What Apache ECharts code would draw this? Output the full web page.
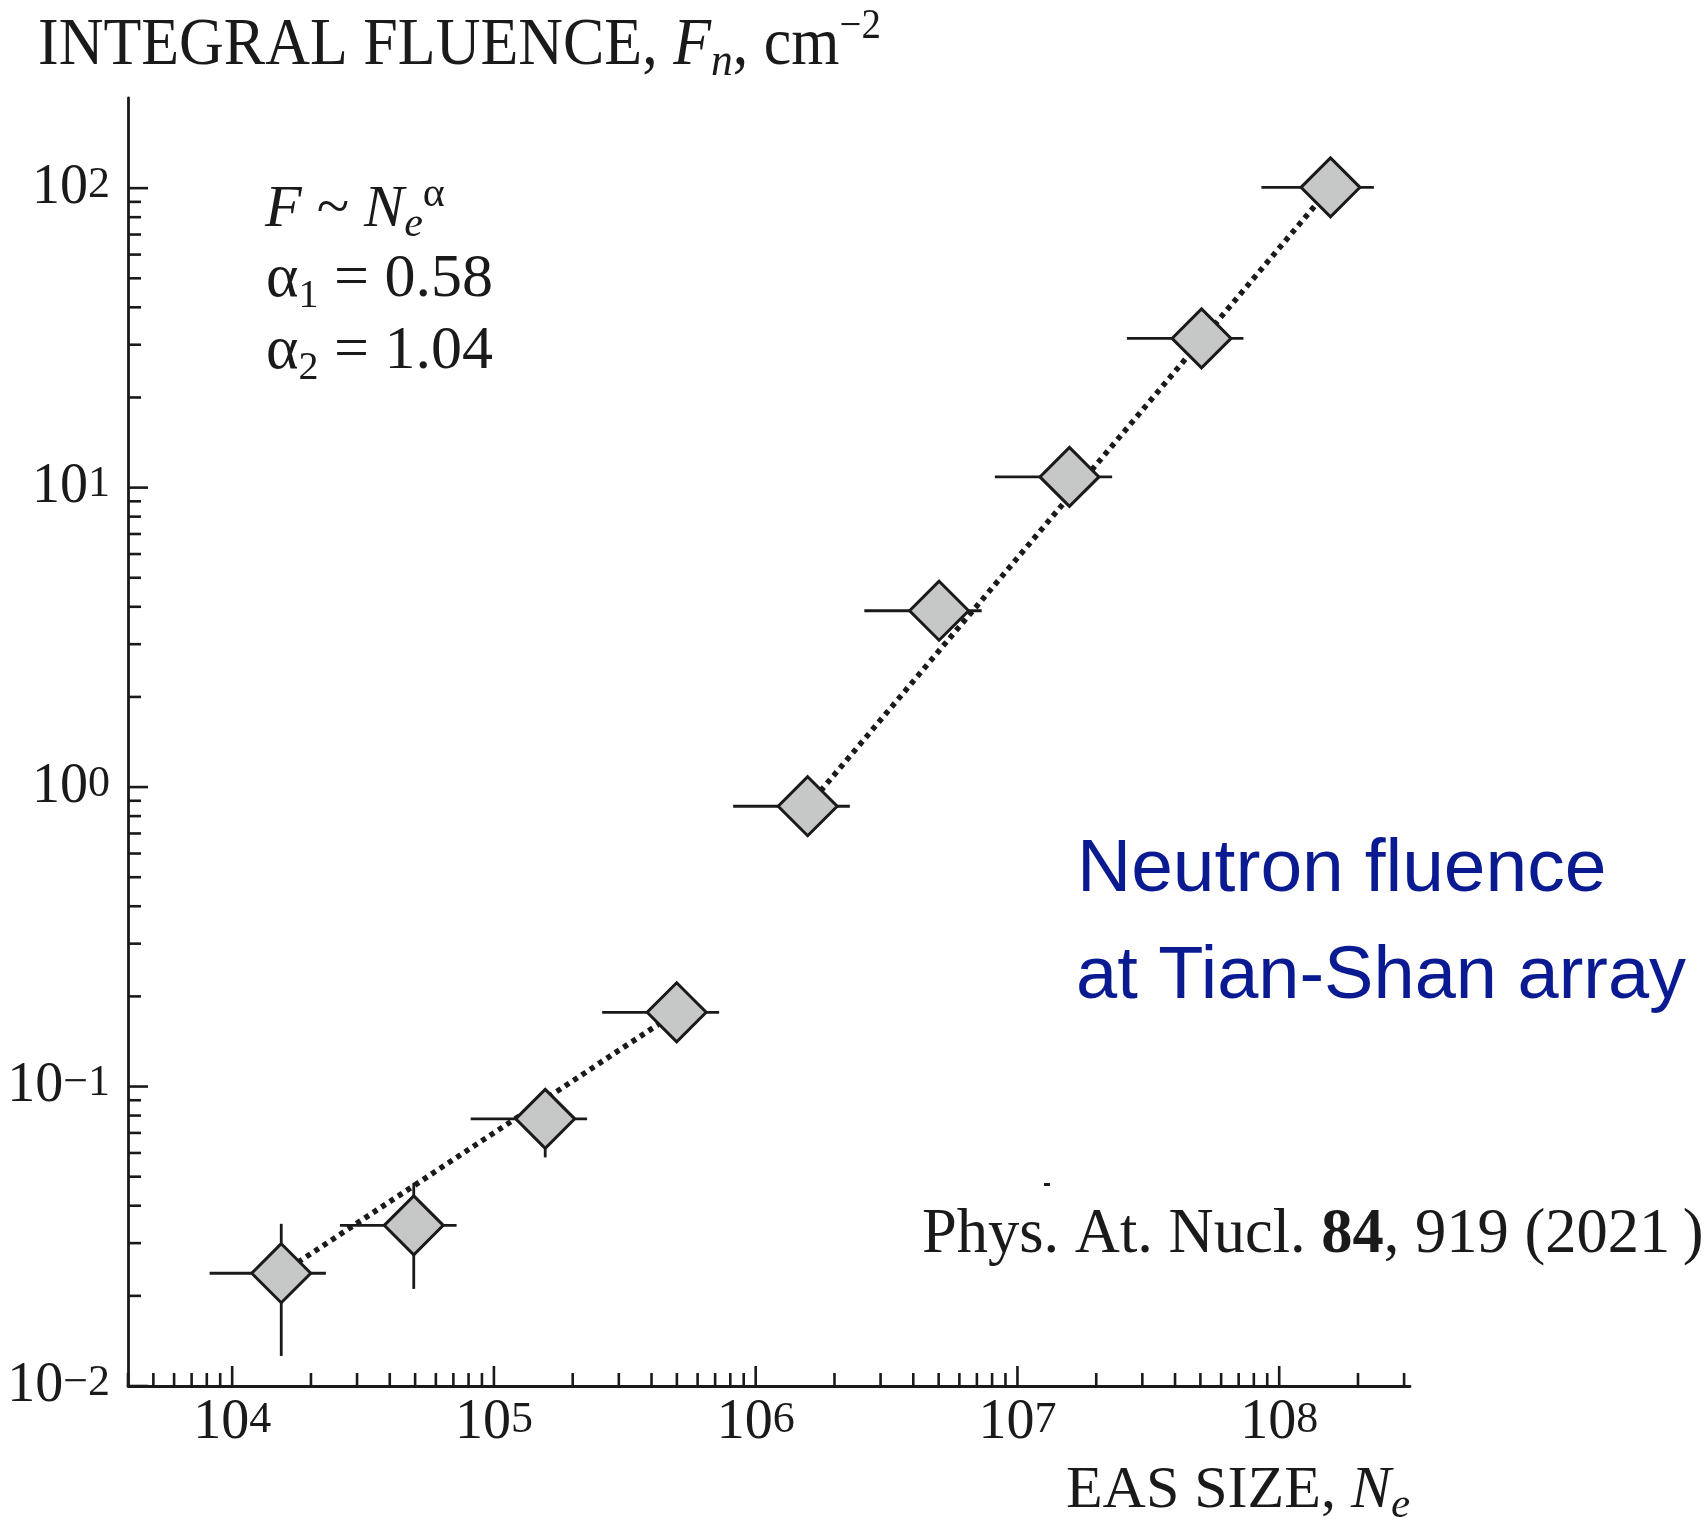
<!DOCTYPE html>
<html>
<head>
<meta charset="utf-8">
<script src="https://cdn.jsdelivr.net/npm/echarts@6/dist/echarts.min.js"></script>
<style>
html,body{margin:0;padding:0;background:#ffffff;}
#chart{width:1705px;height:1522px;}
</style>
</head>
<body>
<div id="chart"></div>
<script>
// ---------------- data ----------------
const easSize     = [1.54e4, 4.94e4, 1.57e5, 4.99e5, 1.58e6, 5.02e6, 1.58e7, 5.05e7, 1.57e8];
const fluence     = [0.0238, 0.0344, 0.078, 0.177, 0.863, 3.88, 10.86, 31.5, 100.6];
const sizeLow     = [8.2e3, 2.58e4, 8.15e4, 2.59e5, 8.2e5, 2.6e6, 8.2e6, 2.62e7, 8.55e7];
const sizeHigh    = [2.28e4, 7.2e4, 2.27e5, 7.25e5, 2.29e6, 7.3e6, 2.3e7, 7.3e7, 2.3e8];
const fluenceLow  = [0.0126, 0.0211, 0.058, null, null, null, null, null, null];
const fluenceHigh = [0.0348, 0.0477, 0.098, null, null, null, null, null, null];
const fitLow  = [[1.54e4, 0.0238], [4.99e5, 0.177]];   // alpha1 = 0.58
const fitHigh = [[1.58e6, 0.863], [1.57e8, 100.6]];    // alpha2 = 1.04

const xMin = 4000, xMax = 3.16e8, yMin = 0.01, yMax = 200;
const xTickValues = [1e4, 1e5, 1e6, 1e7, 1e8];
const xTickExps   = ['4', '5', '6', '7', '8'];
const yTickValues = [0.01, 0.1, 1, 10, 100];
const yTickExps   = ['\u22122', '\u22121', '0', '1', '2'];
const minorMultipliers = [2, 3, 4, 5, 6, 7, 8, 9];
const xDecades = [1e3, 1e4, 1e5, 1e6, 1e7, 1e8];
const yDecades = [0.01, 0.1, 1, 10];

// ---------------- helpers ----------------
const INK = '#1a1a1a';
const SERIF = '"Liberation Serif", "Times New Roman", serif';
const SANS = '"Liberation Sans", Arial, sans-serif';

const MAJOR_LEN = 20, MINOR_LEN = 13;
const xTickData = [];
xTickValues.forEach(v => xTickData.push([v, yMin, MAJOR_LEN]));
xDecades.forEach(d => minorMultipliers.forEach(m => {
  const v = d * m;
  if (v >= xMin - 1e-6 && v <= xMax * (1 + 1e-9)) xTickData.push([v, yMin, MINOR_LEN]);
}));
const yTickData = [];
yTickValues.forEach(v => yTickData.push([xMin, v, MAJOR_LEN]));
yDecades.forEach(d => minorMultipliers.forEach(m => {
  const v = d * m;
  if (v > yMin && v < 100) yTickData.push([xMin, v, MINOR_LEN]);
}));

function expIndex(arr, val) {
  const lv = Math.log10(val);
  for (let i = 0; i < arr.length; i++) {
    if (Math.abs(Math.log10(arr[i]) - lv) < 1e-6) return i;
  }
  return -1;
}

const tickRich = {
  m: { fontFamily: SERIF, fontSize: 56, color: INK, lineHeight: 50 },
  s: { fontFamily: SERIF, fontSize: 44, color: INK, lineHeight: 16, verticalAlign: 'top' }
};

const errData = easSize.map((x, i) => [x, fluence[i], sizeLow[i], sizeHigh[i],
  fluenceLow[i] == null ? '-' : fluenceLow[i], fluenceHigh[i] == null ? '-' : fluenceHigh[i]]);

function textEl(x, y, text, rich, align, scaleX) {
  return {
    type: 'text', x: x, y: y, z: 100, scaleX: scaleX || 1,
    style: {
      text: text, rich: rich,
      align: align || 'left', verticalAlign: 'middle',
      textAlign: align || 'left', textVerticalAlign: 'middle',
      fill: INK
    }
  };
}
function rs(size, lh, opts) {
  return Object.assign({ fontFamily: SERIF, fontSize: size, lineHeight: lh, fill: INK }, opts || {});
}

const chart = echarts.init(document.getElementById('chart'), null, { renderer: 'canvas' });

const option = {
  backgroundColor: '#ffffff',
  animation: false,
  grid: { left: 128, right: 295, top: 98, bottom: 136, containLabel: false, outerBoundsMode: 'none' },
  xAxis: {
    type: 'log', logBase: 10, min: xMin, max: xMax,
    axisLine: { show: true, onZero: false, lineStyle: { color: INK, width: 2.8 } },
    axisTick: { show: false }, minorTick: { show: false },
    splitLine: { show: false },
    axisLabel: {
      show: true, margin: 12, color: INK,
      formatter: function (val) {
        const i = expIndex(xTickValues, val);
        return i < 0 ? '' : '{m|10}{s|' + xTickExps[i] + '}';
      },
      rich: tickRich
    }
  },
  yAxis: {
    type: 'log', logBase: 10, min: yMin, max: yMax,
    axisLine: { show: true, onZero: false, lineStyle: { color: INK, width: 2.8 } },
    axisTick: { show: false }, minorTick: { show: false },
    splitLine: { show: false },
    axisLabel: {
      show: true, margin: 18, color: INK,
      formatter: function (val) {
        const i = expIndex(yTickValues, val);
        return i < 0 ? '' : '{m|10}{s|' + yTickExps[i] + '}';
      },
      rich: tickRich
    }
  },
  series: [
    {
      name: 'xticks', type: 'custom', clip: false, silent: true, z: 5,
      encode: { x: 0, y: 1 },
      data: xTickData,
      renderItem: function (params, api) {
        const p = api.coord([api.value(0), api.value(1)]);
        const len = api.value(2);
        return { type: 'line', shape: { x1: p[0], y1: p[1], x2: p[0], y2: p[1] - len },
                 style: { stroke: INK, lineWidth: 2.6 } };
      }
    },
    {
      name: 'yticks', type: 'custom', clip: false, silent: true, z: 5,
      encode: { x: 0, y: 1 },
      data: yTickData,
      renderItem: function (params, api) {
        const p = api.coord([api.value(0), api.value(1)]);
        const len = api.value(2);
        return { type: 'line', shape: { x1: p[0], y1: p[1], x2: p[0] + len, y2: p[1] },
                 style: { stroke: INK, lineWidth: 2.6 } };
      }
    },
    {
      name: 'fit alpha1', type: 'line', data: fitLow, symbol: 'none', z: 2,
      lineStyle: { color: INK, width: 5.5, type: [5, 5], cap: 'butt' }
    },
    {
      name: 'fit alpha2', type: 'line', data: fitHigh, symbol: 'none', z: 2,
      lineStyle: { color: INK, width: 5.5, type: [5, 5], cap: 'butt' }
    },
    {
      name: 'errors', type: 'custom', clip: false, z: 3,
      encode: { x: 0, y: 1 },
      data: errData,
      renderItem: function (params, api) {
        const x = api.value(0), y = api.value(1);
        const c = api.coord([x, y]);
        const pl = api.coord([api.value(2), y]);
        const ph = api.coord([api.value(3), y]);
        const children = [{ type: 'line', shape: { x1: pl[0], y1: c[1], x2: ph[0], y2: c[1] },
                            style: { stroke: INK, lineWidth: 2.8 } }];
        const yl = api.value(4), yh = api.value(5);
        if (isFinite(yl) && isFinite(yh) && yl > 0 && yh > 0) {
          const ql = api.coord([x, yl]), qh = api.coord([x, yh]);
          children.push({ type: 'line', shape: { x1: c[0], y1: ql[1], x2: c[0], y2: qh[1] },
                          style: { stroke: INK, lineWidth: 2.8 } });
        }
        return { type: 'group', children: children };
      }
    },
    {
      name: 'fluence', type: 'scatter', z: 4,
      data: easSize.map((x, i) => [x, fluence[i]]),
      symbol: 'diamond', symbolSize: 59,
      itemStyle: { color: '#c6c8c7', borderColor: INK, borderWidth: 3, opacity: 1 }
    }
  ],
  graphic: [
    textEl(38, 46, '{n|INTEGRAL FLUENCE, }{i|F}{sb|n}{n|, cm}{sp|\u22122}', {
      n: rs(67, 80), i: rs(67, 80, { fontStyle: 'italic' }),
      sb: rs(47, 32, { fontStyle: 'italic', verticalAlign: 'bottom' }),
      sp: rs(42, 32, { verticalAlign: 'top' })
    }, 'left', 0.925),
    textEl(1410, 1491, '{n|EAS SIZE, }{i|N}{sb|e}', {
      n: rs(60, 72), i: rs(60, 72, { fontStyle: 'italic' }),
      sb: rs(43, 34, { fontStyle: 'italic', verticalAlign: 'bottom' })
    }, 'right'),
    textEl(265, 210, '{i|F}{n| ~ }{i|N}{sb|e}{sp|\u03b1}', {
      n: rs(60, 72), i: rs(60, 72, { fontStyle: 'italic' }),
      sb: rs(42, 34, { fontStyle: 'italic', verticalAlign: 'bottom' }),
      sp: rs(42, 42, { verticalAlign: 'top' })
    }),
    textEl(266, 280, '{n|\u03b1}{sb|1}{n| = 0.58}', {
      n: rs(62, 72), sb: rs(40, 28, { verticalAlign: 'bottom' })
    }),
    textEl(266, 352, '{n|\u03b1}{sb|2}{n| = 1.04}', {
      n: rs(62, 72), sb: rs(40, 28, { verticalAlign: 'bottom' })
    }),
    textEl(1077, 870, '{b|Neutron fluence}', {
      b: { fontFamily: SANS, fontSize: 75, lineHeight: 90, fill: '#0a1a91' }
    }),
    textEl(1076, 978, '{b|at Tian-Shan array}', {
      b: { fontFamily: SANS, fontSize: 74, lineHeight: 90, fill: '#0a1a91' }
    }),
    textEl(922, 1236, '{n|Phys. At. Nucl. }{b|84}{n|, 919 (2021\u2009)}', {
      n: rs(62.5, 76), b: rs(62.5, 76, { fontWeight: 'bold' })
    }),
    { type: 'rect', z: 100, shape: { x: 1044, y: 1183, width: 6, height: 3 }, style: { fill: INK } }
  ]
};

chart.setOption(option);
</script>
</body>
</html>
